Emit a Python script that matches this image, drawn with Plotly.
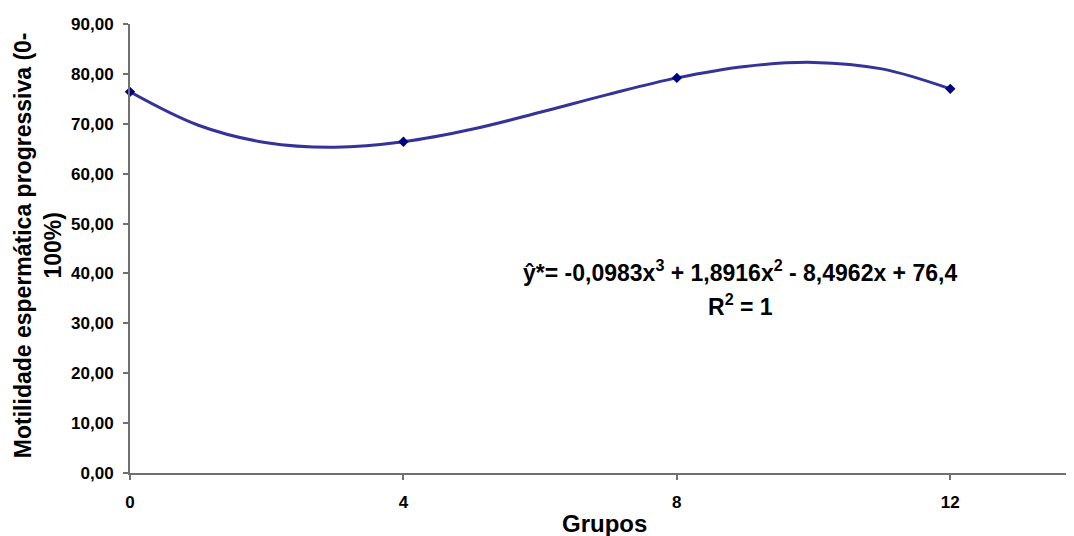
import plotly.graph_objects as go

# Observed data (group vs. progressive motility)
grupos = [0, 4, 8, 12]
motilidade = [76.4, 66.4, 79.2, 77.0]

# Trend curve
curva_x = [0, 1, 2, 3, 4, 5, 6, 7, 8, 9, 10, 11, 12]
curva_y = [76.4, 69.7, 66.2, 65.3, 66.4, 68.9, 72.3, 75.9, 79.2, 81.5, 82.3, 81.0, 77.0]

x_ticks = [0, 4, 8, 12]
y_ticks = [0, 10, 20, 30, 40, 50, 60, 70, 80, 90]
y_ticklabels = ["0,00", "10,00", "20,00", "30,00", "40,00", "50,00", "60,00", "70,00", "80,00", "90,00"]

equacao = "<b>ŷ*= -0,0983x<sup>3</sup> + 1,8916x<sup>2</sup> - 8,4962x + 76,4</b>"
r2 = "<b>R<sup>2</sup> = 1</b>"

FONT = "Liberation Sans, Arial, sans-serif"

fig = go.Figure()
fig.add_trace(go.Scatter(
    x=curva_x, y=curva_y, mode="lines",
    line=dict(color="#333399", width=3, shape="spline", smoothing=1.0),
    hoverinfo="skip", showlegend=False, cliponaxis=False,
))
fig.add_trace(go.Scatter(
    x=grupos, y=motilidade, mode="markers",
    marker=dict(symbol="diamond", size=8, color="#000080"),
    showlegend=False, cliponaxis=False,
))

fig.add_annotation(x=8.93, y=40.5, xref="x", yref="y", text=equacao, showarrow=False,
                   font=dict(family=FONT, size=23, color="black"), xanchor="center", yanchor="middle")
fig.add_annotation(x=8.93, y=33.7, xref="x", yref="y", text=r2, showarrow=False,
                   font=dict(family=FONT, size=23, color="black"), xanchor="center", yanchor="middle")

# Axis titles as annotations for precise placement
fig.add_annotation(x=-0.0972, y=0.508, xref="paper", yref="paper",
                   text="<b>Motilidade espermática progressiva (0-<br>100%)</b>",
                   textangle=-90, showarrow=False,
                   font=dict(family=FONT, size=23, color="black"),
                   xanchor="center", yanchor="middle")
fig.add_annotation(x=0.503, y=-0.1128, xref="paper", yref="paper",
                   text="<b>Grupos</b>", showarrow=False,
                   font=dict(family=FONT, size=24, color="black"),
                   xanchor="center", yanchor="middle")

axis_common = dict(
    showgrid=False, zeroline=False, showline=True, linecolor="#707070", linewidth=2,
    ticks="outside", ticklen=5, tickwidth=1.5, tickcolor="#707070", automargin=False,
)

# The page body adds an 8px offset; the figure is sized to fill the rest of the window.
fig.update_layout(
    width=1066, height=528,
    margin=dict(l=122, r=0, t=16, b=63),
    paper_bgcolor="white", plot_bgcolor="white",
    font=dict(family=FONT, color="black"),
    xaxis=dict(
        range=[0, 13.81], tickvals=x_ticks, ticktext=[f"<b>{v}</b>" for v in x_ticks],
        tickfont=dict(family=FONT, size=17, color="black"),
        ticklabelstandoff=8,
        **axis_common,
    ),
    yaxis=dict(
        range=[0, 90], tickvals=y_ticks, ticktext=[f"<b>{t}</b>" for t in y_ticklabels],
        tickfont=dict(family=FONT, size=17, color="black"),
        ticklabelstandoff=6,
        **axis_common,
    ),
)

fig.write_html("out.html")
